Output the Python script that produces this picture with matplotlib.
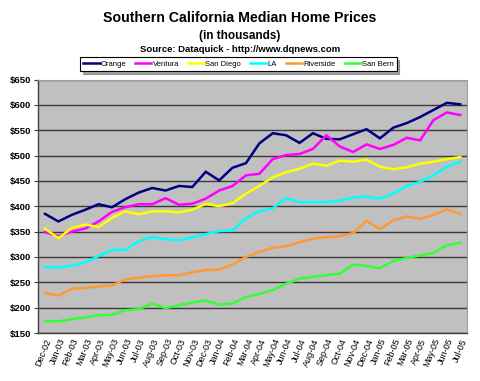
import matplotlib
matplotlib.use("Agg")
import matplotlib.pyplot as plt
import numpy as np

months = ["Dec-02", "Jan-03", "Feb-03", "Mar-03", "Apr-03", "May-03", "Jun-03", "Jul-03",
          "Aug-03", "Sep-03", "Oct-03", "Nov-03", "Dec-03", "Jan-04", "Feb-04", "Mar-04",
          "Apr-04", "May-04", "Jun-04", "Jul-04", "Aug-04", "Sep-04", "Oct-04", "Nov-04",
          "Dec-04", "Jan-05", "Feb-05", "Mar-05", "Apr-05", "May-05", "Jun-05", "Jul-05"]

orange = [385, 370, 383, 393, 404, 398, 414, 427, 436, 431, 440, 438, 468, 451, 476, 485,
          524, 544, 540, 525, 544, 533, 532, 542, 552, 534, 555, 564, 576, 590, 604, 601]
ventura = [349, 341, 350, 356, 370, 389, 398, 404, 404, 416, 403, 405, 415, 431, 440, 461,
           464, 493, 501, 503, 513, 540, 518, 507, 522, 513, 521, 535, 530, 570, 585, 580]
san_diego = [356, 337, 357, 364, 359, 377, 390, 384, 390, 390, 388, 393, 405, 400, 406, 425,
             440, 457, 467, 474, 484, 480, 490, 488, 492, 478, 473, 477, 484, 488, 493, 497]
la = [280, 279, 283, 289, 302, 314, 314, 331, 339, 335, 333, 339, 345, 351, 352, 377,
      390, 396, 416, 408, 408, 408, 411, 417, 419, 415, 425, 440, 448, 461, 478, 488]
riverside = [229, 224, 237, 239, 242, 244, 256, 259, 262, 264, 264, 270, 274, 275, 285, 300,
             310, 318, 321, 329, 336, 339, 341, 347, 371, 355, 372, 380, 375, 383, 394, 385]
san_bern = [174, 173, 177, 181, 185, 186, 195, 197, 208, 199, 205, 210, 214, 206, 208, 221,
            227, 235, 247, 257, 261, 264, 267, 285, 282, 278, 292, 298, 303, 308, 323, 328]

series_names = ["Orange", "Ventura", "San Diego", "LA", "Riverside", "San Bern"]
series_values = [orange, ventura, san_diego, la, riverside, san_bern]
colors = ["#000080", "#FF00FF", "#FFFF00", "#00FFFF", "#FF9933", "#33FF33"]
y_ticks = [150, 200, 250, 300, 350, 400, 450, 500, 550, 600, 650]

plt.rcParams['font.family'] = ['Liberation Sans', 'DejaVu Sans']

fig = plt.figure(figsize=(4.8, 3.81), dpi=100)
W, H = 480, 381
left, right, top, bottom = 38.3, 467, 79.5, 333
ax = fig.add_axes([left / W, 1 - bottom / H, (right - left) / W, (bottom - top) / H])
ax.set_facecolor("#C0C0C0")

x = np.arange(len(months))
lines = []
for name, vals, c in zip(series_names, series_values, colors):
    ln, = ax.plot(x, vals, color=c, lw=1.8, label=name, zorder=3, solid_joinstyle='miter')
    lines.append(ln)

ax.set_xlim(-0.5, len(months) - 0.5)
ax.set_ylim(150, 650)
ax.set_yticks(y_ticks)
ax.set_yticklabels([f"${v}" for v in y_ticks], fontsize=6.8, fontweight='bold')
ax.set_xticks(x)
ax.set_xticklabels(months, rotation=68, fontsize=6.5, ha='right', rotation_mode='anchor')
ax.tick_params(axis='x', length=0, pad=3)
ax.tick_params(axis='y', length=3, width=0.8, color="#404040", pad=2)
ax.yaxis.grid(True, color="#3a3a3a", lw=1.0, zorder=1)
ax.set_axisbelow(True)

for s in ["top", "right"]:
    ax.spines[s].set_color("#a0a0a0")
    ax.spines[s].set_linewidth(0.8)
for s in ["left", "bottom"]:
    ax.spines[s].set_color("#404040")
    ax.spines[s].set_linewidth(1.0)

fig.text(240 / W, 1 - 18 / H, "Southern California Median Home Prices", ha='center', va='center',
         fontsize=10.2, fontweight='bold')
fig.text(240 / W, 1 - 36 / H, "(in thousands)", ha='center', va='center',
         fontsize=8.5, fontweight='bold')
fig.text(240 / W, 1 - 50 / H, "Source: Dataquick - http://www.dqnews.com", ha='center', va='center',
         fontsize=6.8, fontweight='bold')

leg = fig.legend(handles=lines, labels=series_names, loc='center', ncol=6,
                 bbox_to_anchor=(238.5 / W, 1 - 64 / H), fontsize=5.5, frameon=True,
                 fancybox=False, shadow=True, handlelength=2.1, handletextpad=0.15,
                 columnspacing=1.2, borderpad=0.4)
leg.get_frame().set_edgecolor("black")
leg.get_frame().set_linewidth(0.8)

fig.savefig("out.png", dpi=100, facecolor="white")
